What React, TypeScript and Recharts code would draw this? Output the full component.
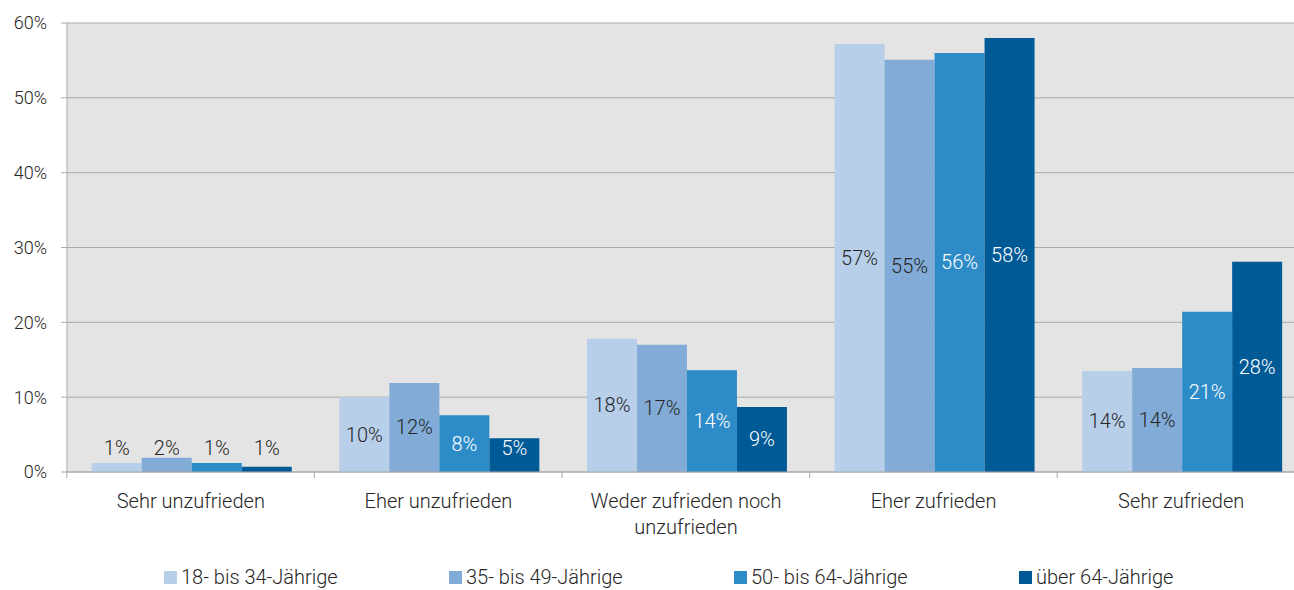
import { BarChart, Bar, XAxis, YAxis, CartesianGrid, Legend } from 'recharts'

const categories = [
  'Sehr unzufrieden',
  'Eher unzufrieden',
  'Weder zufrieden noch unzufrieden',
  'Eher zufrieden',
  'Sehr zufrieden',
]

const age18to34 = [1.2, 10.0, 17.8, 57.2, 13.5]
const age35to49 = [1.9, 11.9, 17.0, 55.1, 13.9]
const age50to64 = [1.2, 7.6, 13.6, 56.0, 21.4]
const age65plus = [0.7, 4.5, 8.7, 58.0, 28.1]

const yTicks = [0, 10, 20, 30, 40, 50, 60]

const series = [
  { key: 'a', name: '18- bis 34-Jährige', color: '#b8cfea', text: '#262626', values: age18to34 },
  { key: 'b', name: '35- bis 49-Jährige', color: '#82acd7', text: '#262626', values: age35to49 },
  { key: 'c', name: '50- bis 64-Jährige', color: '#2d8bc8', text: '#ffffff', values: age50to64 },
  { key: 'd', name: 'über 64-Jährige', color: '#005a96', text: '#ffffff', values: age65plus },
]

const data = categories.map((name, i) => {
  const row: Record<string, any> = { name }
  series.forEach((s) => (row[s.key] = s.values[i]))
  return row
})

const FONT = 'Roboto, "Noto Sans", sans-serif'
const GRID = '#a9a9a9'

// Two-line wrap for long category names, tick marks sit between categories
const CategoryTick = ({ x, y, payload, index }: any) => {
  const band = 248
  const words = String(payload.value).split(' ')
  const lines = words.length > 3 ? [words.slice(0, 3).join(' '), words.slice(3).join(' ')] : [payload.value]
  const axisY = y - 8
  return (
    <g>
      <line x1={x - band / 2} x2={x - band / 2} y1={axisY} y2={axisY + 6} stroke={GRID} />
      {index === categories.length - 1 && (
        <line x1={x + band / 2} x2={x + band / 2} y1={axisY} y2={axisY + 6} stroke={GRID} />
      )}
      <text x={x} y={axisY + 36} textAnchor="middle" fill="#262626" fontSize={20} fontFamily={FONT} fontWeight={300}>
        {lines.map((l: string, i: number) => (
          <tspan key={i} x={x} dy={i === 0 ? 0 : 26}>
            {l}
          </tspan>
        ))}
      </text>
    </g>
  )
}

const makeLabel = (inside: string) => (props: any) => {
  const { x, y, width, height, value } = props
  const base = y + height
  const cy = Math.min(y + height / 2, base - 24)
  const fill = cy < y + 2 ? '#262626' : inside
  return (
    <text
      x={x + width / 2}
      y={cy}
      textAnchor="middle"
      dominantBaseline="central"
      fill={fill}
      fontSize={20}
      fontFamily={FONT}
      fontWeight={300}
    >
      {Math.round(value)}%
    </text>
  )
}

const LegendContent = () => (
  <div style={{ height: 40, position: 'relative', fontFamily: FONT, fontWeight: 300, fontSize: 20, color: '#262626' }}>
    {series.map((s, i) => (
      <div
        key={s.key}
        style={{ position: 'absolute', left: 164 + i * 285, top: 5, display: 'flex', alignItems: 'center', whiteSpace: 'nowrap' }}
      >
        <span style={{ width: 13, height: 13, background: s.color, marginRight: 4, display: 'inline-block' }} />
        <span>{s.name}</span>
      </div>
    ))}
  </div>
)

export default function App() {
  return (
    <div style={{ position: 'absolute', left: 0, top: 0, width: 1294, height: 590, overflow: 'hidden', background: '#fff' }}>
      <BarChart
        width={1310}
        height={600}
        data={data}
        margin={{ top: 23, right: 5, left: 0, bottom: 0 }}
        barCategoryGap="10%"
        barGap={0}
      >
        <CartesianGrid vertical={false} stroke={GRID} fill="#e4e4e4" fillOpacity={1} />
        <XAxis
          dataKey="name"
          interval={0}
          height={88}
          axisLine={{ stroke: GRID }}
          tickLine={false}
          tick={<CategoryTick />}
        />
        <YAxis
          width={67}
          domain={[0, 60]}
          ticks={yTicks}
          interval={0}
          tickFormatter={(v: number) => `${v}%`}
          axisLine={{ stroke: GRID }}
          tickLine={{ stroke: GRID }}
          tickSize={6}
          tickMargin={14}
          tick={{ fill: '#262626', fontSize: 18, fontFamily: FONT, fontWeight: 300 }}
        />
        <Legend verticalAlign="bottom" content={<LegendContent />} />
        {series.map((s) => (
          <Bar key={s.key} dataKey={s.key} name={s.name} fill={s.color} isAnimationActive={false} label={makeLabel(s.text)} />
        ))}
      </BarChart>
    </div>
  )
}
